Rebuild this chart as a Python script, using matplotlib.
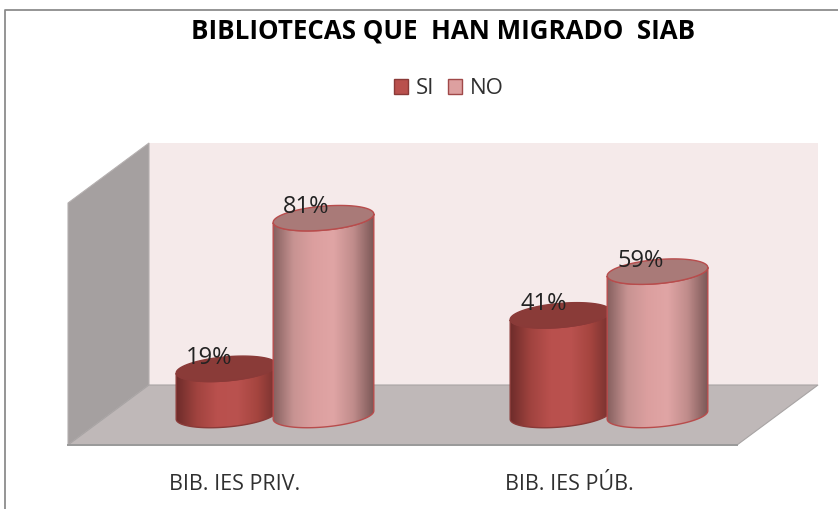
import numpy as np
import matplotlib.pyplot as plt
from matplotlib.colors import LinearSegmentedColormap
from matplotlib.patches import Polygon, Patch

title = 'BIBLIOTECAS QUE  HAN MIGRADO  SIAB'
categories = ['BIB. IES PRIV.', 'BIB. IES PÚB.']
series_names = ['SI', 'NO']
si_values = [19, 41]
no_values = [81, 59]

plt.rcParams['font.family'] = 'Open Sans'

W, H = 838, 509
fig = plt.figure(figsize=(W/100, H/100), dpi=100, facecolor='white')
ax = fig.add_axes([0, 0, 1, 1])
ax.set_xlim(0, W)
ax.set_ylim(H, 0)
ax.axis('off')

# chart frame, cut by the image on the right and at the bottom
ax.plot([5, 5, W], [H, 10, 10], color='#8c8c8c', lw=1.3, zorder=1)

# 3d box
wall_left, wall_right, wall_top, wall_floor = 149, 818, 143, 385
front_x, front_y = 68, 445
ax.add_patch(Polygon([(wall_left, wall_top), (wall_right, wall_top), (wall_right, wall_floor), (wall_left, wall_floor)],
                     fc='#f5eaea', ec='none', zorder=2))
ax.add_patch(Polygon([(front_x, 203), (wall_left, wall_top), (wall_left, wall_floor), (front_x, front_y)],
                     fc='#a5a0a0', ec='#b5b0b0', lw=0.8, zorder=2))
ax.add_patch(Polygon([(front_x, front_y), (wall_left, wall_floor), (wall_right, wall_floor), (737, front_y)],
                     fc='#bfb8b8', ec='#a8a4a4', lw=0.8, zorder=2))
ax.plot([front_x, 737], [front_y, front_y], color='#9a9a9a', lw=1.4, zorder=3)

# cylinders
base_y = 415
px_per_pct = 2.43
rx, ry = 50.5, 12
tilt = np.radians(5)
group_x = [275, 609]
bar_step = 97

cmap_si = LinearSegmentedColormap.from_list('si', ['#6e2c2a', '#a0433f', '#b9504d', '#ba524f', '#a5453f', '#74302e'])
cmap_no = LinearSegmentedColormap.from_list('no', ['#86605f', '#c79392', '#dc9f9f', '#e0a5a5', '#c08c8b', '#7c5857'])
top_colors = ['#8a3b38', '#a97a78']
edge_colors = ['#8a3a38', '#b84c4c']


def ellipse_pts(cx, cy, t):
    x = cx + rx*np.cos(t)*np.cos(tilt) + ry*np.sin(t)*np.sin(tilt)
    y = cy - rx*np.cos(t)*np.sin(tilt) + ry*np.sin(t)*np.cos(tilt)
    return np.column_stack([x, y])


def cylinder(cx, value, cmap, top_color, edge, z):
    top_y = base_y - value*px_per_pct
    low = ellipse_pts(cx, base_y, np.linspace(0, np.pi, 60))
    high = ellipse_pts(cx, top_y, np.linspace(np.pi, 0, 60))
    side = Polygon(np.vstack([low, high]), closed=True, fc='none', ec=edge, lw=1.0, zorder=z+0.2)
    ax.add_patch(side)
    im = ax.imshow(np.linspace(0, 1, 200).reshape(1, -1), cmap=cmap, aspect='auto',
                   extent=[cx-rx, cx+rx, base_y+ry+6, top_y-ry-6], zorder=z+0.1)
    im.set_clip_path(side)
    ax.add_patch(Polygon(ellipse_pts(cx, top_y, np.linspace(0, 2*np.pi, 120)), closed=True,
                         fc=top_color, ec=edge, lw=1.0, zorder=z+0.3))
    return top_y


for i, gx in enumerate(group_x):
    for j, vals in enumerate([si_values, no_values]):
        cx = gx + (j-0.5)*bar_step
        top_y = cylinder(cx, vals[i], [cmap_si, cmap_no][j], top_colors[j], edge_colors[j], 4+j)
        ax.text(cx-17, top_y-11, f'{vals[i]}%', ha='center', va='center', fontsize=17,
                color='#222222', zorder=10)
    ax.text(gx-40, 484, categories[i], ha='center', va='center', fontsize=15.5, color='#303030', zorder=10)
ax.set_xlim(0, W)
ax.set_ylim(H, 0)

ax.text(443, 31, title, ha='center', va='center', fontsize=18.6, fontweight='bold', color='black', zorder=10)

handles = [Patch(fc='#b9504d', ec='#8a3a38', label=series_names[0]),
           Patch(fc='#dda0a0', ec='#a04848', label=series_names[1])]
ax.legend(handles=handles, ncols=2, loc='center', bbox_to_anchor=(449/W, 1-89/H), frameon=False,
          fontsize=16, handlelength=0.65, handleheight=0.65, handletextpad=0.35, columnspacing=0.6,
          labelcolor='#303030')

fig.savefig('out.png', dpi=100, facecolor='white')
